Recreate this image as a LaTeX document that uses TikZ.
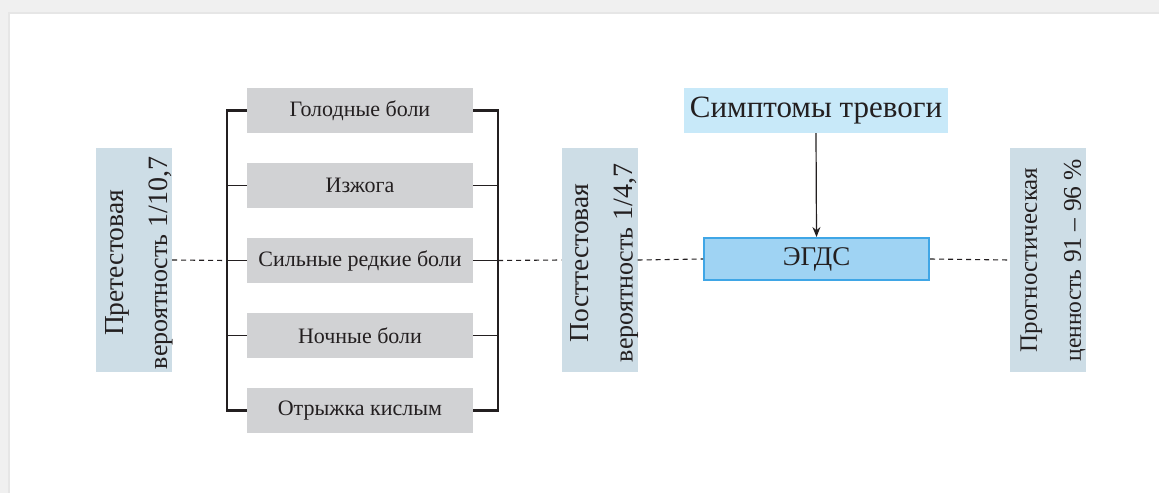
\documentclass[tikz,border=0pt]{standalone}
\usepackage{fontspec}
\setmainfont{Liberation Serif}
\newfontfamily\nf{Liberation Serif}
\usetikzlibrary{arrows.meta}
\definecolor{bgout}{HTML}{F0F0F0}
\definecolor{bgshade}{HTML}{E6E6E6}
\definecolor{sidefill}{HTML}{CDDDE6}
\definecolor{grayfill}{HTML}{D1D2D4}
\definecolor{sympfill}{HTML}{C8E9F9}
\definecolor{egdsfill}{HTML}{9FD3F3}
\definecolor{egdsline}{HTML}{3FA6E6}
\definecolor{ink}{HTML}{231F20}
\newcommand\numsz{\fontsize{28}{44}\selectfont}
\newcommand\firstsz{\fontsize{27.5}{44}\selectfont}
\newcommand\rnumsz{\fontsize{25.5}{44}\selectfont}
\newcommand\rfirstsz{\fontsize{25}{44}\selectfont}
\newcommand\rsecsz{\fontsize{23.5}{44}\selectfont}
\begin{document}
\begin{tikzpicture}[x=1pt,y=-1pt,
  graybox/.style={fill=grayfill, minimum width=226pt, minimum height=45pt, inner sep=0pt,
    text=ink, font=\nf\fontsize{22}{26}\selectfont},
  side/.style={fill=sidefill, minimum width=76pt, minimum height=224pt, inner sep=0pt},
  sidetext/.style={rotate=90, align=center, text=ink, inner sep=0pt,
    font=\nf\fontsize{26}{44}\selectfont},
  sympbox/.style={fill=sympfill, minimum width=264pt, minimum height=45pt, inner sep=0pt,
    text=ink, font=\nf\fontsize{31}{34}\selectfont},
  egdsbox/.style={fill=egdsfill, draw=egdsline, line width=2pt, minimum width=225pt,
    minimum height=42pt, inner sep=0pt, text=ink, font=\nf\fontsize{27}{30}\selectfont},
  brk/.style={draw=ink, line width=2.4pt, line join=miter},
  tck/.style={draw=ink, line width=1.2pt},
  dsh/.style={draw=ink, line width=1.1pt, dash pattern=on 5pt off 4pt},
  arr/.style={draw=ink, line width=1.2pt, -{Stealth[length=10pt,width=8pt]}}
]
\useasboundingbox (0,0) rectangle (1159,493);
\fill[bgout] (0,0) rectangle (1159,493);
\fill[bgshade] (8,12) rectangle (1159,493);
\fill[white] (10,14) rectangle (1159,493);

% symptom boxes
\node[graybox] (g1) at (360,110.5) {Голодные боли};
\node[graybox] (g2) at (360,185.5) {Изжога};
\node[graybox] (g3) at (360,260.5) {Сильные редкие боли};
\node[graybox] (g4) at (360,335.5) {Ночные боли};
\node[graybox] (g5) at (360,410.5) {Отрыжка кислым};

% side boxes
\node[side] (pre) at (134,260) {};
\node[sidetext] (preT) at ([xshift=5pt,yshift=-3pt]pre.center) {{\firstsz Претестовая}\\вероятность {\numsz 1/10,7}};
\node[side] (post) at (599.5,260) {};
\node[sidetext] (postT) at ([xshift=5pt,yshift=-3pt]post.center) {{\firstsz Посттестовая}\\вероятность {\numsz 1/4,7}};
\node[side] (prog) at (1048,260) {};
\node[sidetext] (progT) at ([xshift=5pt,yshift=0pt]prog.center) {{\rfirstsz Прогностическая}\\{\rsecsz ценность} {\rnumsz 91 – 96 \%}};

% alarm symptoms and EGDS
\node[sympbox] (symp) at (816,110.5) {Симптомы тревоги};
\node[egdsbox] (egds) at (816.5,259) {ЭГДС};

% brackets
\coordinate (lb) at (227,260.5);
\coordinate (rb) at (498,260.5);
\draw[brk] (g1.west) -| (lb) |- (g5.west);
\draw[brk] (g1.east) -| (rb) |- (g5.east);
\draw[tck] (g2.west) -- (g2.west -| lb);
\draw[tck] (g3.west) -- (g3.west -| lb);
\draw[tck] (g4.west) -- (g4.west -| lb);
\draw[tck] (g2.east) -- (g2.east -| rb);
\draw[tck] (g3.east) -- (g3.east -| rb);
\draw[tck] (g4.east) -- (g4.east -| rb);

% dashed flow
\draw[dsh] (pre.east) -- (lb);
\draw[dsh] (rb) -- (post.west);
\draw[dsh] (post.east) -- (egds.west);
\draw[dsh] (egds.east) -- (prog.west);

% arrow
\draw[arr] (symp.south) -- (egds.north);
\end{tikzpicture}
\end{document}
